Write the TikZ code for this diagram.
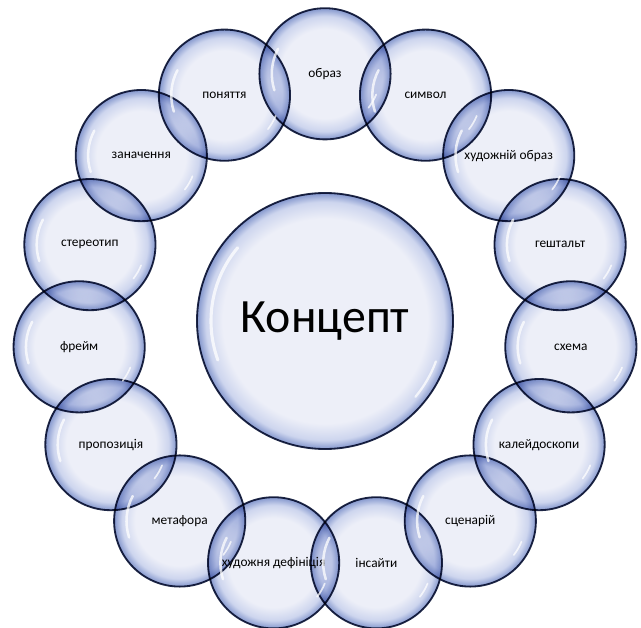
\documentclass[tikz,border=0pt]{standalone}
\usepackage{fontspec}
\setmainfont{Carlito}

\definecolor{bubcore}{HTML}{EDEFF8}
\definecolor{bubmid}{HTML}{CDD5EE}
\definecolor{bubrim}{HTML}{8497CD}
\definecolor{bubline}{HTML}{1F2847}
% circle edge sits at 25bp of the shading
\pgfdeclareradialshading{bubble}{\pgfpoint{0bp}{0bp}}{color(0bp)=(bubcore); color(17bp)=(bubcore); color(22bp)=(bubmid); color(25bp)=(bubrim); color(50bp)=(bubrim)}
\pgfdeclareradialshading{bigbubble}{\pgfpoint{0bp}{0bp}}{color(0bp)=(bubcore); color(20bp)=(bubcore); color(23.3bp)=(bubmid); color(25bp)=(bubrim); color(50bp)=(bubrim)}

\begin{document}
\begin{tikzpicture}[
  bub/.style={circle, draw=bubline, line width=1.3pt, shading=bubble, minimum size=3.28cm, inner sep=0pt, font=\fontsize{9.5}{10}\selectfont},
  core/.style={bub, shading=bigbubble, minimum size=6.4cm, font=\fontsize{34}{38}\selectfont},
  glint/.style={white, line width=1.8pt, line cap=round, opacity=0.75}]
\useasboundingbox (-8.125,-7.65) rectangle (7.9,8.025);
\begin{scope}[blend mode=multiply]
\node[core] (konc) at (0,0) {Концепт};
\node[bub] (obraz) at (90:6.18) {образ};
\node[bub] (symv) at (66:6.18) {символ};
\node[bub] (hobraz) at (42:6.18) {художній образ};
\node[bub] (gesh) at (18:6.18) {гештальт};
\node[bub] (shema) at (-6:6.18) {схема};
\node[bub] (kal) at (-30:6.18) {калейдоскопи};
\node[bub] (scen) at (-54:6.18) {сценарій};
\node[bub] (ins) at (-78:6.18) {інсайти};
\node[bub] (hdef) at (-102:6.18) {художня дефініція};
\node[bub] (met) at (-126:6.18) {метафора};
\node[bub] (prop) at (-150:6.18) {пропозиція};
\node[bub] (frame) at (-174:6.18) {фрейм};
\node[bub] (ster) at (162:6.18) {стереотип};
\node[bub] (znach) at (138:6.18) {заначення};
\node[bub] (pon) at (114:6.18) {поняття};
\end{scope}
% glossy highlights
\foreach \n in {obraz,symv,hobraz,gesh,shema,kal,scen,ins,hdef,met,prop,frame,ster,znach,pon} {
  \draw[glint] ([shift={(152:1.33)}]\n.center) arc[start angle=152, end angle=198, radius=1.33];
  \draw[glint, line width=1.2pt] ([shift={(-38:1.38)}]\n.center) arc[start angle=-38, end angle=-22, radius=1.38];
}
\draw[glint, line width=2.2pt] ([shift={(140:2.85)}]konc.center) arc[start angle=140, end angle=200, radius=2.85];
\draw[glint, line width=1.6pt] ([shift={(-40:2.95)}]konc.center) arc[start angle=-40, end angle=-20, radius=2.95];
\end{tikzpicture}
\end{document}
